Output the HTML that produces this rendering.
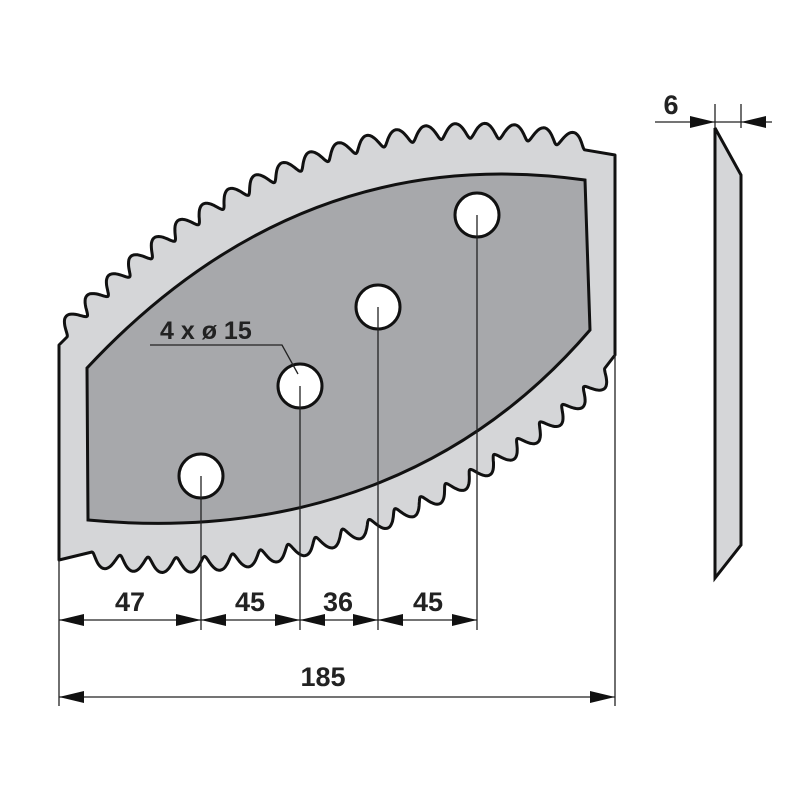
<!DOCTYPE html>
<html><head><meta charset="utf-8"><style>
html,body{margin:0;padding:0;background:#fff;width:800px;height:800px;overflow:hidden}
svg{display:block}
text{font-family:"Liberation Sans",Arial,sans-serif;font-weight:bold;fill:#222}
</style></head><body>
<svg id="s" width="800" height="800" viewBox="0 0 800 800">
<path id="outerShape" fill="#d5d6d8" stroke="#111" stroke-width="3" stroke-linejoin="round" d="M59,560 L59,345 L67,337 Q300,90 585,150 L615,155 L615,355 L605,368 Q360,590 92,552 Z"/>
<path d="M87,368 Q300,140 585,180 L590,330 C470,470 300,540 88,520 Z" fill="#a7a8ab" stroke="#111" stroke-width="3"/>
<g fill="#fff" stroke="#111" stroke-width="3">
<circle cx="201" cy="476" r="22"/><circle cx="300" cy="386" r="22"/>
<circle cx="378" cy="307" r="22"/><circle cx="477" cy="215" r="22"/>
</g>
<g stroke="#222" stroke-width="1.3" fill="none">
<line x1="201" y1="476" x2="201" y2="630"/><line x1="300" y1="386" x2="300" y2="630"/>
<line x1="378" y1="307" x2="378" y2="630"/><line x1="477" y1="215" x2="477" y2="630"/>
<line x1="59" y1="560" x2="59" y2="706"/><line x1="615" y1="355" x2="615" y2="706"/>
<line x1="59" y1="620" x2="477" y2="620"/><line x1="59" y1="697" x2="615" y2="697"/>
<polyline points="150,345 282,345 298,374"/>
<line x1="715" y1="104" x2="715" y2="128"/><line x1="741" y1="104" x2="741" y2="128"/>
<line x1="655" y1="122" x2="772" y2="122"/>
</g>
<g fill="#111">
<polygon points="59,620 84,614 84,626"/><polygon points="201,620 176,614 176,626"/>
<polygon points="201,620 226,614 226,626"/><polygon points="300,620 275,614 275,626"/>
<polygon points="300,620 325,614 325,626"/><polygon points="378,620 353,614 353,626"/>
<polygon points="378,620 403,614 403,626"/><polygon points="477,620 452,614 452,626"/>
<polygon points="59,697 84,691 84,703"/><polygon points="615,697 590,691 590,703"/>
<polygon points="715,122 690,116 690,128"/><polygon points="741,122 766,116 766,128"/>
</g>
<polygon points="715,128 741,175 741,545 715,578" fill="#d5d6d8" stroke="#111" stroke-width="3" stroke-linejoin="miter"/>
<text x="130" y="611" font-size="27" text-anchor="middle">47</text>
<text x="250" y="611" font-size="27" text-anchor="middle">45</text>
<text x="338" y="611" font-size="27" text-anchor="middle">36</text>
<text x="428" y="611" font-size="27" text-anchor="middle">45</text>
<text x="323" y="686" font-size="27" text-anchor="middle">185</text>
<text x="160" y="339" font-size="25">4 x ø 15</text>
<text x="671" y="114" font-size="27" text-anchor="middle">6</text>
</svg>
<script>
(function(){
function qb(p0,c,p1,t){return [(1-t)*(1-t)*p0[0]+2*(1-t)*t*c[0]+t*t*p1[0],(1-t)*(1-t)*p0[1]+2*(1-t)*t*c[1]+t*t*p1[1]];}
function teeth(p0,c,p1,n,amp){
  var M=2000,i,ss=[0],P=[qb(p0,c,p1,0)];
  for(i=1;i<=M;i++){var p=qb(p0,c,p1,i/M);P.push(p);ss.push(ss[i-1]+Math.hypot(p[0]-P[i-1][0],p[1]-P[i-1][1]));}
  var L=ss[M],per=L/n,pts=[],step=1.2,j=0;
  for(var s=0;s<=L;s+=step){
    while(j<M-1&&ss[j+1]<s)j++;
    var a=P[j],b=P[j+1],f=(s-ss[j])/Math.max(1e-6,ss[j+1]-ss[j]);
    var x=a[0]+(b[0]-a[0])*f,y=a[1]+(b[1]-a[1])*f;
    var dx=b[0]-a[0],dy=b[1]-a[1],l=Math.hypot(dx,dy)||1;var nx=dy/l,ny=-dx/l;
    var ph=s/per*2*Math.PI;
    var o=amp*(0.5-0.5*Math.cos(ph));
    var sh=-0.12*amp*Math.sin(ph);
    pts.push((x+nx*o+dx/l*sh).toFixed(1)+','+(y+ny*o+dy/l*sh).toFixed(1));}
  return pts;}
var tp=teeth([67,337],[300,90],[585,150],20,15);
var bt=teeth([605,368],[360,590],[92,552],20,15);
var dd='M59,560 L59,345 L'+tp.join(' L')+' L615,155 L615,355 L'+bt.join(' L')+' Z';
document.getElementById('outerShape').setAttribute('d',dd);
})();
</script>
</body></html>
